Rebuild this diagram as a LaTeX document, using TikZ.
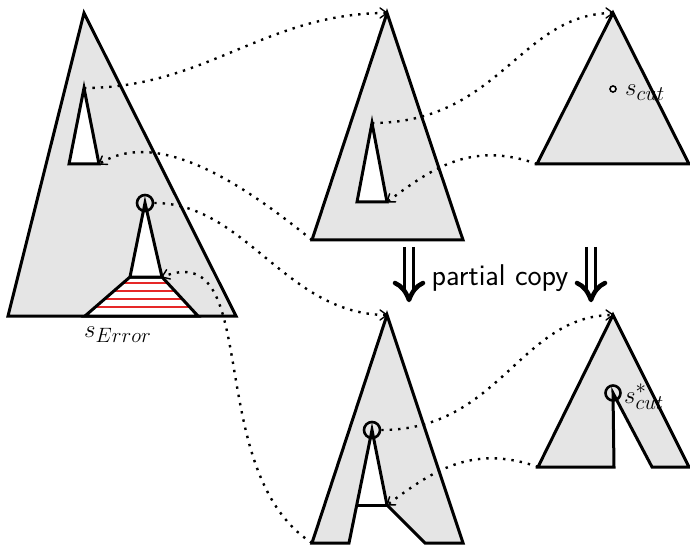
\documentclass[tikz,border=0pt]{standalone}
\usetikzlibrary{calc}
\definecolor{hatchred}{RGB}{230,40,40}
\begin{document}
\begin{tikzpicture}[x=1pt,y=-1pt,
  tri/.style={draw, fill=gray!20, line width=3pt, line join=miter},
  hole/.style={draw, fill=white, line width=3pt, line join=miter},
  conn/.style={line width=2.4pt, dash pattern=on 2.4pt off 6pt},
  tipst/.style={line width=1.4pt, line join=round, line cap=round},
  ring/.style={circle, draw, line width=2.6pt, minimum size=16pt, inner sep=0pt},
  lbl/.style={font=\fontsize{30}{36}\selectfont, inner sep=0pt},
  redline/.style={draw=hatchred, line width=1.1pt},
  shaft/.style={line width=3pt},
  arrowhead/.style={line width=4.5pt, line cap=round, line join=round}
]
\useasboundingbox (0,0) rectangle (690,545);
% ---------- big triangle (s_Error) ----------
\coordinate (A1) at (84,13);
\coordinate (A2) at (8,316);
\coordinate (A3) at (236,316);
\coordinate (h1t) at (84,88);
\coordinate (h1l) at (69,164);
\coordinate (h1r) at (99,164);
\coordinate (spt) at (145,203);
\coordinate (spl) at (130,277);
\coordinate (spr) at (162,277);
\coordinate (tzr) at (198,316);
\coordinate (tzl) at (85,316);
\draw[tri] (A1) -- (A2) -- (A3) -- cycle;
\draw[hole] (h1t) -- (h1l) -- (h1r) -- cycle;
\fill[white] (spl) -- (spr) -- (tzr) -- (tzl) -- cycle;
\begin{scope}
  \clip (spl) -- (spr) -- (tzr) -- (tzl) -- cycle;
  \foreach \yy in {283,291,299,307} \draw[redline] (80,\yy) -- (210,\yy);
\end{scope}
\draw[line width=3pt, line join=miter] (spl) -- (spr) -- (tzr) -- (tzl) -- cycle;
\draw[hole] (spt) -- (spl) -- (spr) -- cycle;
\node[ring] (r1) at (spt) {};
\node[lbl, anchor=base west] (lerr) at (84,337) {$s_{Error}$};
% ---------- middle top triangle ----------
\coordinate (B1) at (387,13);
\coordinate (B2) at (312,240);
\coordinate (B3) at (463,240);
\coordinate (h2t) at (372,123);
\coordinate (h2l) at (357,202);
\coordinate (h2r) at (387,202);
\draw[tri] (B1) -- (B2) -- (B3) -- cycle;
\draw[hole] (h2t) -- (h2l) -- (h2r) -- cycle;
% ---------- right top triangle ----------
\coordinate (C1) at (613,13);
\coordinate (C2) at (537,164);
\coordinate (C3) at (689,164);
\draw[tri] (C1) -- (C2) -- (C3) -- cycle;
\node[circle, draw, fill=white, line width=1.6pt, minimum size=6pt, inner sep=0pt] (dcut) at (613,89) {};
\node[lbl, anchor=base west] (lcut) at (625,96) {$s_{cut}$};
% ---------- bottom middle shape ----------
\coordinate (D1) at (387,315);
\coordinate (D2) at (312,543);
\coordinate (D3) at (349,543);
\coordinate (D4) at (372,430);
\coordinate (D5) at (387,505);
\coordinate (D6) at (425,543);
\coordinate (D7) at (463,543);
\coordinate (Dbar) at (357,505);
\draw[tri] (D1) -- (D2) -- (D3) -- (D4) -- (D5) -- (D6) -- (D7) -- cycle;
\draw[line width=3pt] (Dbar) -- (D5);
\node[ring] (r2) at (D4) {};
% ---------- bottom right shape ----------
\coordinate (E1) at (613,315);
\coordinate (E2) at (538,467);
\coordinate (E3) at (614,467);
\coordinate (E4) at (613,393);
\coordinate (E5) at (652,467);
\coordinate (E6) at (689,467);
\draw[tri] (E1) -- (E2) -- (E3) -- (E4) -- (E5) -- (E6) -- cycle;
\node[ring, minimum size=15pt] (r3) at (E4) {};
\node[lbl, anchor=base west] (lcuts) at (624,403) {$s^*_{cut}$};
% ---------- partial copy ----------
\node[lbl, font=\fontsize{30}{36}\selectfont\sffamily, anchor=base] (pc) at (500,285) {partial copy};
\foreach \cx/\nm in {409/L,591/R}{
  \coordinate (sa\nm) at (\cx-4.5,247);
  \coordinate (sb\nm) at (\cx-4.5,293);
  \coordinate (sc\nm) at (\cx+4.5,247);
  \coordinate (sd\nm) at (\cx+4.5,293);
  \coordinate (hl\nm) at (\cx-14,283);
  \coordinate (ht\nm) at (\cx,300);
  \coordinate (hr\nm) at (\cx+14,283);
  \draw[shaft] (sa\nm) -- (sb\nm);
  \draw[shaft] (sc\nm) -- (sd\nm);
  \draw[arrowhead] (hl\nm) .. controls +(7,3) and +(-3,-8) .. (ht\nm) .. controls +(3,-8) and +(-7,3) .. (hr\nm);
}
% ---------- connectors ----------
\draw[conn] (h1t) .. controls +(122,0) and +(-122,0) .. (B1);
\draw[conn] (h2t) .. controls +(128,0) and +(-93,0) .. (C1);
\draw[conn] (C2) .. controls +(-67,-24) and +(43,-32) .. (h2r);
\draw[conn] (B2) .. controls +(-62,-50) and +(61,-39) .. (h1r);
\draw[conn] (r1) .. controls +(101,0) and +(-101,0) .. (D1);
\draw[conn] (r2) .. controls +(128,0) and +(-93,0) .. (E1);
\draw[conn] (E2) .. controls +(-67,-24) and +(43,-32) .. (D5);
\draw[conn] (D2) .. controls +(-112,-73) and +(103,-42) .. (spr);
% ---------- arrow tips ----------
\draw[tipst] ($(B1)+(-7,5)$) -- (B1) -- ($(B1)+(-7,-5)$);
\draw[tipst] ($(C1)+(-7,5)$) -- (C1) -- ($(C1)+(-7,-5)$);
\draw[tipst] ($(D1)+(-7,5)$) -- (D1) -- ($(D1)+(-7,-5)$);
\draw[tipst] ($(E1)+(-7,5)$) -- (E1) -- ($(E1)+(-7,-5)$);
\draw[tipst] ($(h2r)+(2.6,-8.2)$) -- (h2r) -- ($(h2r)+(8.6,-0.2)$);
\draw[tipst] ($(D5)+(2.6,-8.2)$) -- (D5) -- ($(D5)+(8.6,-0.2)$);
\draw[tipst] ($(h1r)+(8.6,0.4)$) -- (h1r) -- ($(h1r)+(3.2,-8)$);
\draw[tipst] ($(spr)+(8.4,2)$) -- (spr) -- ($(spr)+(4.6,-7.3)$);
\end{tikzpicture}
\end{document}
